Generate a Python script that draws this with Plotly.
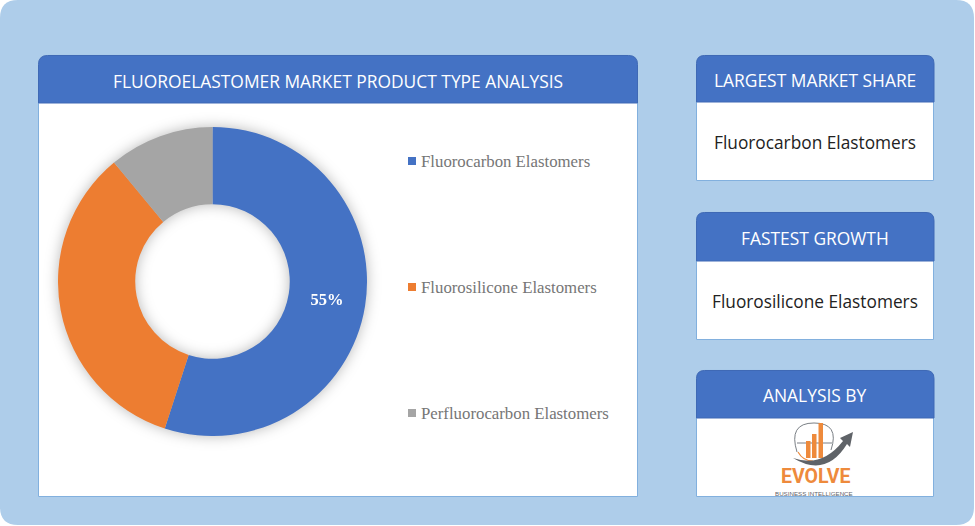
import plotly.graph_objects as go

W, H = 975, 526

product_types = ['Fluorocarbon Elastomers', 'Fluorosilicone Elastomers', 'Perfluorocarbon Elastomers']
shares = [55, 34, 11]
slice_text = ['55%', '', '']
slice_colors = ['#4472C4', '#ED7D31', '#A5A5A5']

main_title = 'FLUOROELASTOMER MARKET PRODUCT TYPE ANALYSIS'
card_titles = ['LARGEST MARKET SHARE', 'FASTEST GROWTH', 'ANALYSIS BY']
card_values = ['Fluorocarbon Elastomers', 'Fluorosilicone Elastomers', '']

BG = '#AECDEA'
HEAD = '#4472C4'
HEAD_LINE = '#3F69B5'
BODY_LINE = '#82B0DE'
ORANGE = '#EE8A3C'
GREY = '#5F6368'


def px(x):
    return x / W


def py(y):
    return 1 - y / H


def pt(x, y):
    return f'{px(x):.5f},{py(y):.5f}'


def box_path(x0, y0, x1, y1, r_top=0, r_bot=0):
    # rounded corners in pixels, written as paper fractions
    p = f'M {pt(x0, y0 + r_top)} '
    if r_top:
        p += f'Q {pt(x0, y0)} {pt(x0 + r_top, y0)} '
    p += f'L {pt(x1 - r_top, y0)} '
    if r_top:
        p += f'Q {pt(x1, y0)} {pt(x1, y0 + r_top)} '
    p += f'L {pt(x1, y1 - r_bot)} '
    if r_bot:
        p += f'Q {pt(x1, y1)} {pt(x1 - r_bot, y1)} '
    p += f'L {pt(x0 + r_bot, y1)} '
    if r_bot:
        p += f'Q {pt(x0, y1)} {pt(x0, y1 - r_bot)} '
    return p + 'Z'


shapes = []


def add_path(path, fill=None, line=None, width=1):
    shapes.append(dict(type='path', path=path, xref='paper', yref='paper', layer='below',
                       fillcolor=fill or 'rgba(0,0,0,0)', line=dict(color=line or 'rgba(0,0,0,0)', width=width)))


# page background
add_path(box_path(0, 0, 974, 525, 18, 18), fill=BG)

# main panel
add_path(box_path(38.5, 100, 637.5, 496.5), fill='white', line=BODY_LINE)
add_path(box_path(38.5, 55.5, 637.5, 103, 9, 0), fill=HEAD, line=HEAD_LINE)

# right cards
cards = [(696, 55, 102, 181), (696, 212, 261, 340), (696, 370, 418, 497)]
for x0, y0, ym, y1 in cards:
    add_path(box_path(x0 + 0.5, ym - 3, 933.5, y1 - 0.5), fill='white', line=BODY_LINE)
    add_path(box_path(x0 + 0.5, y0 + 0.5, 934, ym, 8, 0), fill=HEAD, line=HEAD_LINE)

# legend squares
legend_y = [161, 287, 413]
for yy, col in zip(legend_y, slice_colors):
    add_path(box_path(408, yy - 4, 416, yy + 4), fill=col)

# logo
add_path(f'M {pt(797, 452)} Q {pt(788, 423)} {pt(814, 423)} Q {pt(840, 423)} {pt(831, 450)}', line='#7A7F85', width=1)
add_path(f'M {pt(798, 452)} Q {pt(803, 461)} {pt(813, 461)}', line=ORANGE, width=1.2)
add_path(f'M {pt(797, 443)} L {pt(832, 443)}', line='#7A7F85', width=1)
for bx, top in [(806, 441), (812, 434), (818.5, 423)]:
    add_path(box_path(bx, top, bx + 4.5, 458), fill=ORANGE)
add_path(f'M {pt(793, 458)} Q {pt(822, 468)} {pt(843, 441)} L {pt(840, 438)} L {pt(853, 432)} L {pt(850, 447)} '
         f'L {pt(847, 444)} Q {pt(826, 478)} {pt(793, 458)} Z', fill=GREY)

fig = go.Figure(go.Pie(
    labels=product_types,
    values=shares,
    text=slice_text,
    textinfo='text',
    textposition='inside',
    insidetextorientation='horizontal',
    textfont=dict(family='Liberation Serif', size=16.5, color='white', weight='bold'),
    marker=dict(colors=slice_colors, line=dict(width=0)),
    hole=0.5,
    sort=False,
    direction='clockwise',
    rotation=0,
    showlegend=False,
    domain=dict(x=[px(58), px(367)], y=[py(436), py(127)]),
))

annotations = []


def add_text(x, y, text, size, color, family='Open Sans', xanchor='center', weight='normal', pad=1):
    annotations.append(dict(x=px(x), y=py(y), xref='paper', yref='paper', text=text, showarrow=False,
                            xanchor=xanchor, yanchor='middle', borderpad=pad,
                            font=dict(family=family, size=size, color=color, weight=weight)))


add_text(338, 81, main_title, 17.4, 'white')
for (x0, y0, ym, y1), title, value in zip(cards, card_titles, card_values):
    add_text(815, (y0 + ym) / 2 + 1, title, 17.4, 'white')
    if value:
        add_text(815, (ym + y1) / 2 + 0.5, value, 17.3, '#222222')
for yy, name in zip(legend_y, product_types):
    add_text(419, yy, name, 16.8, '#767676', family='Liberation Serif', xanchor='left')
add_text(815, 476, 'EVOLVE', 19.5, ORANGE, family='Roboto', weight='bold', pad=0)
add_text(814, 493, 'BUSINESS INTELLIGENCE', 6.2, GREY, family='Liberation Sans', pad=0)

fig.update_layout(
    width=W, height=H,
    margin=dict(l=0, r=0, t=0, b=0),
    paper_bgcolor='white',
    shapes=shapes,
    annotations=annotations,
)

# page flush with the window, soft shadow under the ring
post = """
document.body.style.margin = '0';
document.body.style.overflow = 'hidden';
var ring = document.querySelector('.pielayer');
if (ring) { ring.style.filter = 'drop-shadow(0px 0px 7px rgba(0,0,0,0.28))'; }
"""
fig.write_html('out.html', post_script=post, config=dict(displayModeBar=False))
